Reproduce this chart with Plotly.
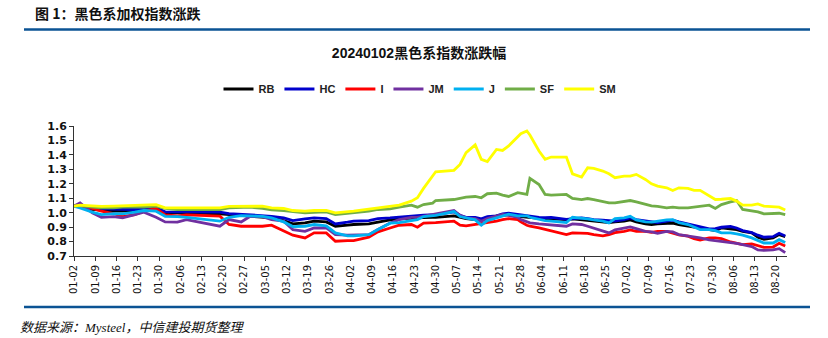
import plotly.graph_objects as go

W, H = 828, 338

dates_md = ["01-02", "01-04", "01-08", "01-11", "01-15", "01-18", "01-22", "01-25", "01-29", "02-01", "02-05", "02-08", "02-19",
            "02-22", "02-26", "02-29", "03-04", "03-07", "03-11", "03-14", "03-18", "03-21", "03-25", "03-28", "04-01", "04-03",
            "04-08", "04-11", "04-15", "04-18", "04-22", "04-24", "04-26", "04-29", "04-30", "05-06", "05-08", "05-10", "05-13",
            "05-15", "05-17", "05-20", "05-22",
            "05-24", "05-27", "05-28", "05-30", "05-31", "06-03", "06-05", "06-07", "06-12", "06-14", "06-17", "06-19", "06-21",
            "06-24", "06-26", "06-28", "07-01", "07-03", "07-05", "07-08", "07-10",
            "07-12", "07-15", "07-17", "07-19", "07-22", "07-24", "07-26", "07-29", "07-31", "08-02", "08-05", "08-07", "08-09",
            "08-12", "08-14", "08-16", "08-19", "08-21", "08-23"]
dates = ["2024-" + d for d in dates_md]

RB = [1.045, 1.045, 1.022, 1.015, 1.010, 1.010, 1.015, 1.017, 1.029, 0.999, 0.999, 0.999, 0.992,
      0.987, 0.980, 0.975, 0.968, 0.964, 0.945, 0.922, 0.929, 0.941, 0.936, 0.906, 0.913, 0.918,
      0.922, 0.936, 0.950, 0.957, 0.964, 0.964, 0.966, 0.968, 0.968, 0.978, 0.968, 0.959, 0.952, 0.952, 0.968, 0.975, 0.982,
      0.987, 0.975, 0.973, 0.968, 0.966, 0.959, 0.957, 0.957, 0.952, 0.957, 0.950, 0.945, 0.941, 0.931, 0.931, 0.936, 0.941, 0.950, 0.936, 0.922, 0.918,
      0.922, 0.927, 0.927, 0.918, 0.908, 0.904, 0.894, 0.883, 0.876, 0.894, 0.890, 0.883, 0.871, 0.860, 0.830, 0.816, 0.825, 0.848, 0.834]
HC = [1.045, 1.049, 1.029, 1.027, 1.022, 1.020, 1.022, 1.027, 1.033, 1.006, 1.006, 1.006, 1.004,
      0.994, 0.990, 0.987, 0.982, 0.975, 0.964, 0.945, 0.957, 0.964, 0.959, 0.922, 0.934, 0.941,
      0.945, 0.959, 0.964, 0.971, 0.978, 0.980, 0.982, 0.987, 0.987, 1.006, 0.982, 0.968, 0.968, 0.957, 0.973, 0.978, 0.992,
      0.996, 0.987, 0.982, 0.978, 0.975, 0.968, 0.966, 0.968, 0.954, 0.959, 0.964, 0.959, 0.952, 0.948, 0.945, 0.941, 0.952, 0.964, 0.952, 0.941, 0.938,
      0.931, 0.941, 0.948, 0.936, 0.922, 0.908, 0.899, 0.888, 0.890, 0.899, 0.904, 0.894, 0.876, 0.862, 0.844, 0.830, 0.834, 0.857, 0.839]
I = [1.045, 1.045, 1.029, 1.010, 0.994, 0.973, 0.987, 1.010, 1.029, 0.985, 0.978, 0.985, 0.976,
     0.918, 0.906, 0.906, 0.906, 0.913, 0.876, 0.844, 0.825, 0.860, 0.860, 0.802, 0.806, 0.806,
     0.830, 0.867, 0.894, 0.913, 0.918, 0.899, 0.927, 0.929, 0.931, 0.941, 0.913, 0.908, 0.918, 0.922, 0.931, 0.941, 0.952,
     0.959, 0.952, 0.936, 0.913, 0.906, 0.894, 0.883, 0.871, 0.848, 0.860, 0.860, 0.857, 0.848, 0.839, 0.848, 0.862, 0.871, 0.881, 0.871, 0.871, 0.864,
     0.871, 0.871, 0.860, 0.846, 0.837, 0.820, 0.811, 0.825, 0.825, 0.820, 0.797, 0.790, 0.779, 0.783, 0.774, 0.760, 0.762, 0.788, 0.769]
JM = [1.045, 1.068, 0.999, 0.968, 0.973, 0.964, 0.987, 1.003, 0.968, 0.936, 0.934, 0.952, 0.906,
      0.952, 0.936, 0.975, 0.973, 0.952, 0.941, 0.883, 0.871, 0.894, 0.894, 0.848, 0.844, 0.844,
      0.848, 0.883, 0.929, 0.952, 0.968, 0.968, 0.975, 0.987, 0.992, 1.015, 0.982, 0.964, 0.959, 0.941, 0.959, 0.973, 0.987,
      0.982, 0.968, 0.952, 0.936, 0.929, 0.922, 0.918, 0.913, 0.906, 0.922, 0.918, 0.906, 0.894, 0.871, 0.860, 0.881, 0.894, 0.901, 0.890, 0.871, 0.867,
      0.857, 0.871, 0.867, 0.848, 0.839, 0.830, 0.825, 0.811, 0.806, 0.802, 0.797, 0.788, 0.779, 0.765, 0.742, 0.739, 0.742, 0.751, 0.723]
J = [1.045, 1.033, 1.003, 0.987, 0.994, 0.992, 1.003, 1.015, 1.010, 0.975, 0.973, 0.968, 0.941,
     0.968, 0.980, 0.978, 0.975, 0.964, 0.936, 0.904, 0.906, 0.918, 0.908, 0.860, 0.839, 0.839,
     0.848, 0.883, 0.927, 0.931, 0.945, 0.952, 0.973, 0.978, 0.982, 1.008, 0.973, 0.964, 0.950, 0.913, 0.945, 0.964, 0.978,
     0.990, 0.978, 0.978, 0.978, 0.968, 0.952, 0.945, 0.941, 0.931, 0.968, 0.964, 0.957, 0.950, 0.941, 0.929, 0.959, 0.964, 0.975, 0.950, 0.936, 0.934,
     0.941, 0.950, 0.952, 0.931, 0.918, 0.899, 0.883, 0.883, 0.876, 0.860, 0.860, 0.853, 0.844, 0.825, 0.806, 0.790, 0.790, 0.813, 0.793]
SF = [1.045, 1.049, 1.038, 1.033, 1.033, 1.038, 1.038, 1.038, 1.045, 1.029, 1.022, 1.022, 1.022,
      1.033, 1.038, 1.038, 1.029, 1.020, 1.015, 1.006, 0.999, 1.003, 1.006, 0.987, 0.994, 0.999,
      1.010, 1.022, 1.026, 1.038, 1.052, 1.038, 1.056, 1.066, 1.084, 1.091, 1.098, 1.107, 1.112, 1.103, 1.131, 1.135, 1.121,
      1.112, 1.138, 1.135, 1.126, 1.237, 1.195, 1.126, 1.121, 1.126, 1.098, 1.091, 1.098, 1.091, 1.075, 1.068, 1.068, 1.075, 1.084, 1.075, 1.056, 1.047,
      1.043, 1.033, 1.038, 1.033, 1.033, 1.038, 1.045, 1.052, 1.029, 1.056, 1.075, 1.084, 1.022, 1.015, 1.006, 0.992, 0.992, 0.996, 0.987]
SM = [1.045, 1.052, 1.047, 1.043, 1.045, 1.047, 1.052, 1.052, 1.056, 1.033, 1.033, 1.033, 1.033,
      1.043, 1.045, 1.047, 1.045, 1.033, 1.029, 1.015, 1.010, 1.015, 1.015, 0.999, 1.006, 1.010,
      1.024, 1.033, 1.042, 1.052, 1.080, 1.103, 1.168, 1.253, 1.283, 1.293, 1.334, 1.415, 1.469, 1.369, 1.353, 1.438, 1.431,
      1.462, 1.529, 1.547, 1.566, 1.538, 1.427, 1.369, 1.385, 1.385, 1.269, 1.246, 1.311, 1.306, 1.288, 1.269, 1.242, 1.253, 1.253, 1.265, 1.230, 1.200,
      1.184, 1.172, 1.154, 1.172, 1.168, 1.154, 1.154, 1.119, 1.091, 1.093, 1.098, 1.080, 1.052, 1.052, 1.061, 1.045, 1.038, 1.038, 1.019]

series_names = ["RB", "HC", "I", "JM", "J", "SF", "SM"]
series_values = [RB, HC, I, JM, J, SF, SM]
series_colors = ["#000000", "#0000CC", "#FF0000", "#7030A0", "#00B0F0", "#70AD47", "#FFFF00"]

y_ticks = [0.7, 0.8, 0.9, 1.0, 1.1, 1.2, 1.3, 1.4, 1.5, 1.6]

fig = go.Figure()
for name, vals, col in zip(series_names, series_values, series_colors):
    fig.add_trace(go.Scatter(x=dates, y=vals, name=name, mode="lines",
                             line=dict(color=col, width=2.8)))

L, R, T, B = 74, 787, 126, 256
fig.update_layout(
    width=W, height=H,
    margin=dict(l=L, r=W - R, t=T, b=H - B, pad=0),
    paper_bgcolor="white", plot_bgcolor="white",
    showlegend=True,
    legend=dict(orientation="h", xref="container", yref="container",
                x=420 / W, xanchor="center", y=1 - 89 / H, yanchor="middle",
                font=dict(family="Liberation Sans, Arial", size=11, color="#222222", weight="bold"),
                itemwidth=30, tracegroupgap=0, bgcolor="rgba(0,0,0,0)"),
    title=dict(text="<b>20240102黑色系指数涨跌幅</b>", xref="container", yref="container",
               x=419 / W, xanchor="center", y=1 - 53 / H, yanchor="middle",
               font=dict(family="Liberation Sans, Noto Sans CJK SC", size=14, color="#111111")),
    xaxis=dict(type="date", range=["2024-01-02", "2024-08-23 14:00"],
               tick0="2024-01-02", dtick=7 * 86400000, tickformat="%m-%d",
               tickangle=-90, ticks="outside", ticklen=4, tickcolor="#333333",
               showline=True, linecolor="#333333", linewidth=1, showgrid=False, zeroline=False,
               tickfont=dict(family="DejaVu Sans", size=10, color="#111111")),
    yaxis=dict(range=[0.7, 1.6], tickvals=y_ticks, tickformat=".1f",
               ticks="outside", ticklen=4, tickcolor="#333333",
               showline=True, linecolor="#333333", linewidth=1, showgrid=False, zeroline=False,
               tickfont=dict(family="DejaVu Sans", size=11, color="#111111", weight="bold")),
)

# header text and rules
fig.add_annotation(text="<b>图 1：黑色系加权指数涨跌</b>", xref="paper", yref="paper",
                   x=(33 - L) / (R - L), y=(B - 13) / (B - T), xanchor="left", yanchor="middle",
                   showarrow=False, font=dict(family="Noto Sans CJK SC", size=14, color="#111111"))
fig.add_shape(type="line", xref="paper", yref="paper",
              x0=(24 - L) / (R - L), x1=(810 - L) / (R - L),
              y0=(B - 29.5) / (B - T), y1=(B - 29.5) / (B - T),
              line=dict(color="#0B5394", width=2.5))
fig.add_shape(type="line", xref="paper", yref="paper",
              x0=(24 - L) / (R - L), x1=(810 - L) / (R - L),
              y0=(B - 307) / (B - T), y1=(B - 307) / (B - T),
              line=dict(color="#0B5394", width=2.5))
fig.add_annotation(text="<i>数据来源：Mysteel，中信建投期货整理</i>", xref="paper", yref="paper",
                   x=(18 - L) / (R - L), y=(B - 327) / (B - T), xanchor="left", yanchor="middle",
                   showarrow=False, font=dict(family="Liberation Serif, Noto Sans CJK SC", size=13, color="#111111"))

fig.write_html("out.html")
